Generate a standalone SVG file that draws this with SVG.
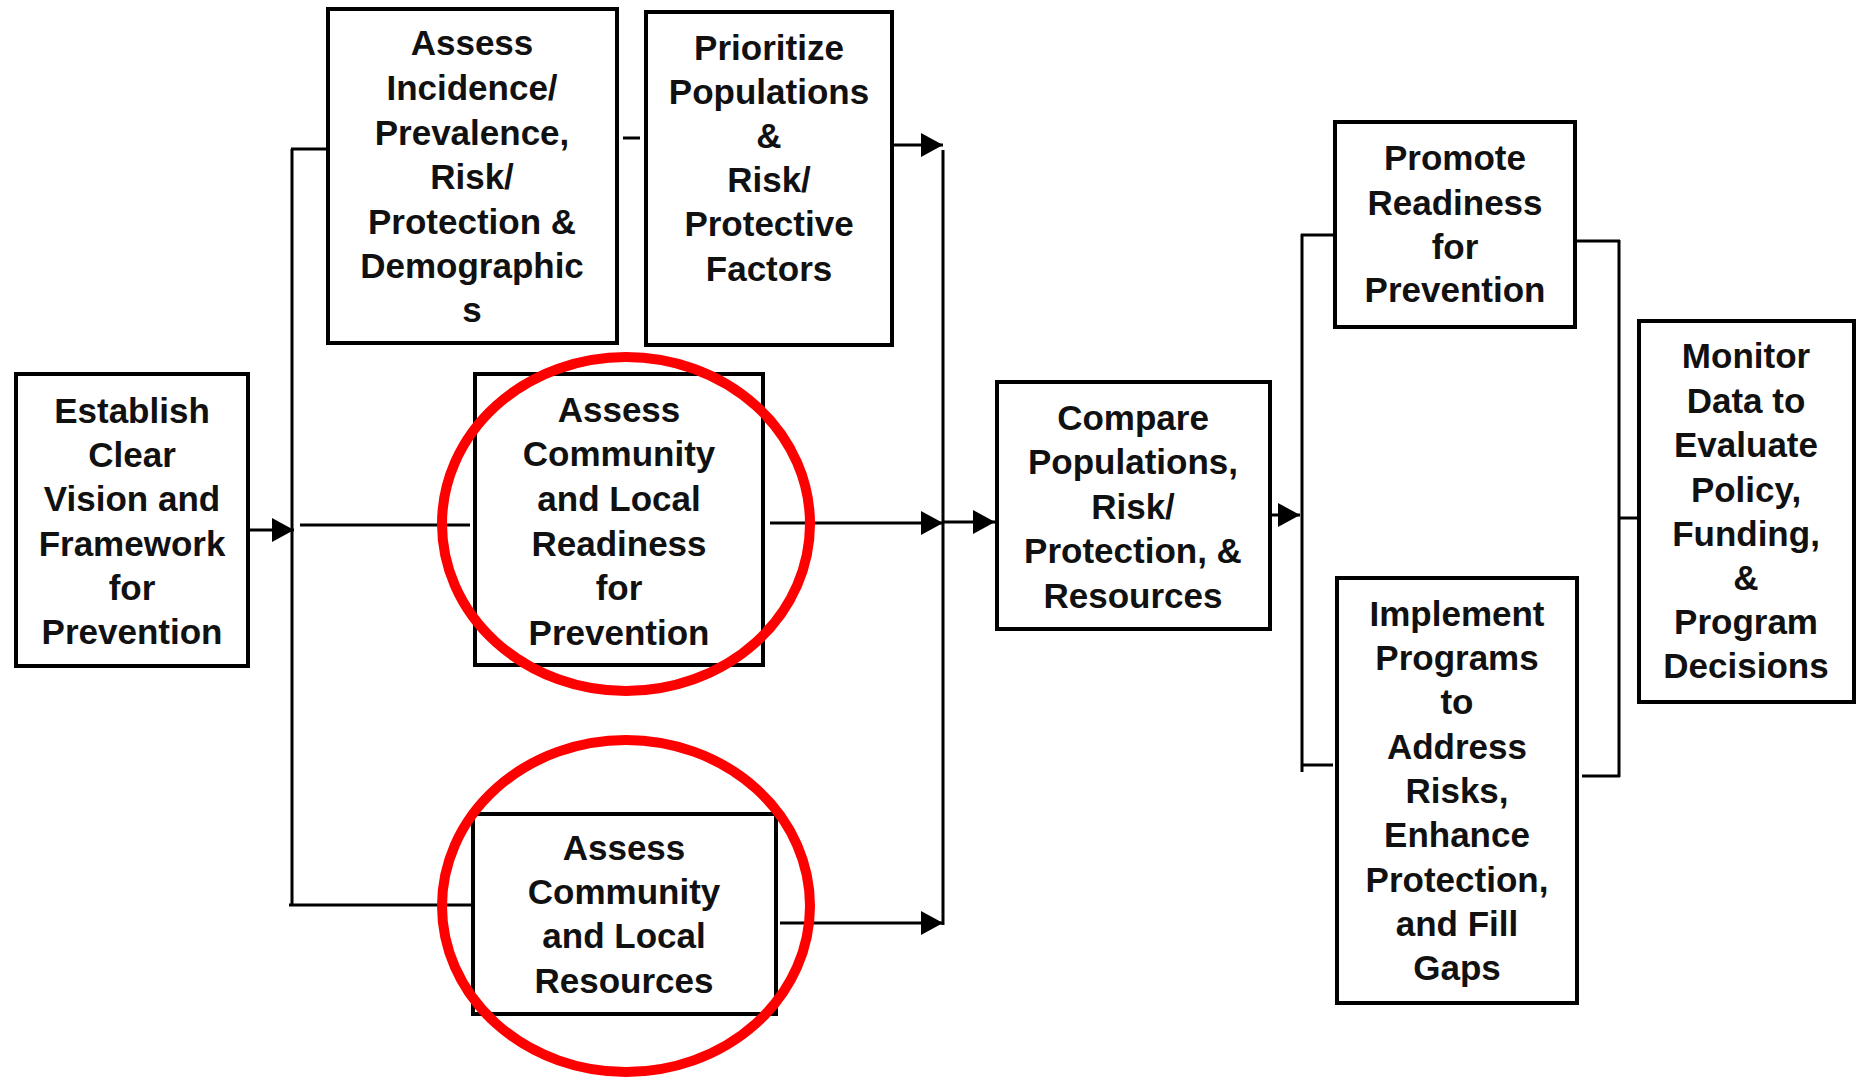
<svg xmlns="http://www.w3.org/2000/svg" width="1856" height="1080" viewBox="0 0 1856 1080">
<style>
.box{fill:#fff;stroke:#000;stroke-width:4}
.t{font-family:"Liberation Sans",Arial,sans-serif;font-weight:bold;font-size:35px;text-anchor:middle;fill:#111}
.c{fill:none;stroke:#000;stroke-width:3}
.ring{fill:none;stroke:#ff0000;stroke-width:10}
</style>
<defs>
<marker id="ah" markerUnits="userSpaceOnUse" markerWidth="24" markerHeight="26" refX="22" refY="12" orient="auto">
<path d="M0,0 L22,12 L0,24 Z" fill="#000"/>
</marker>
</defs>
<rect width="1856" height="1080" fill="#fff"/>

<g id="connectors">
<line class="c" x1="248" y1="530" x2="294" y2="530" marker-end="url(#ah)"/>
<line class="c" x1="292" y1="149" x2="292" y2="906"/>
<line class="c" x1="291" y1="149" x2="328" y2="149"/>
<line class="c" x1="300" y1="525" x2="470" y2="525"/>
<line class="c" x1="289" y1="905" x2="473" y2="905"/>
<line class="c" x1="623" y1="138" x2="640" y2="138"/>
<line class="c" x1="892" y1="145" x2="943" y2="145" marker-end="url(#ah)"/>
<line class="c" x1="770" y1="523" x2="943" y2="523" marker-end="url(#ah)"/>
<line class="c" x1="780" y1="923" x2="943" y2="923" marker-end="url(#ah)"/>
<line class="c" x1="943" y1="150" x2="943" y2="925"/>
<line class="c" x1="943" y1="522" x2="995" y2="522" marker-end="url(#ah)"/>
<line class="c" x1="1263" y1="515" x2="1300" y2="515" marker-end="url(#ah)"/>
<line class="c" x1="1302" y1="234" x2="1302" y2="772"/>
<line class="c" x1="1301" y1="235" x2="1333" y2="235"/>
<line class="c" x1="1301" y1="765" x2="1333" y2="765"/>
<line class="c" x1="1575" y1="241" x2="1620" y2="241"/>
<line class="c" x1="1619" y1="240" x2="1619" y2="777"/>
<line class="c" x1="1582" y1="776" x2="1620" y2="776"/>
<line class="c" x1="1619" y1="518" x2="1639" y2="518"/>
</g>

<g id="establish">
<rect class="box" x="16" y="374" width="232" height="292"/>
<text class="t" x="132" y="423">Establish</text>
<text class="t" x="132" y="467">Clear</text>
<text class="t" x="132" y="511">Vision and</text>
<text class="t" x="132" y="556">Framework</text>
<text class="t" x="132" y="600">for</text>
<text class="t" x="132" y="644">Prevention</text>
</g>

<g id="assess-incidence">
<rect class="box" x="328" y="9" width="289" height="334"/>
<text class="t" x="472" y="55">Assess</text>
<text class="t" x="472" y="100">Incidence/</text>
<text class="t" x="472" y="145">Prevalence,</text>
<text class="t" x="472" y="189">Risk/</text>
<text class="t" x="472" y="234">Protection &amp;</text>
<text class="t" x="472" y="278">Demographic</text>
<text class="t" x="472" y="322">s</text>
</g>

<g id="prioritize">
<rect class="box" x="646" y="12" width="246" height="333"/>
<text class="t" x="769" y="60">Prioritize</text>
<text class="t" x="769" y="104">Populations</text>
<text class="t" x="769" y="148">&amp;</text>
<text class="t" x="769" y="192">Risk/</text>
<text class="t" x="769" y="236">Protective</text>
<text class="t" x="769" y="281">Factors</text>
</g>

<g id="assess-readiness">
<rect class="box" x="475" y="374" width="288" height="291"/>
<text class="t" x="619" y="422">Assess</text>
<text class="t" x="619" y="466">Community</text>
<text class="t" x="619" y="511">and Local</text>
<text class="t" x="619" y="556">Readiness</text>
<text class="t" x="619" y="600">for</text>
<text class="t" x="619" y="645">Prevention</text>
</g>

<g id="assess-resources">
<rect class="box" x="473" y="814" width="303" height="200"/>
<text class="t" x="624" y="860">Assess</text>
<text class="t" x="624" y="904">Community</text>
<text class="t" x="624" y="948">and Local</text>
<text class="t" x="624" y="993">Resources</text>
</g>

<g id="compare">
<rect class="box" x="997" y="382" width="273" height="247"/>
<text class="t" x="1133" y="430">Compare</text>
<text class="t" x="1133" y="474">Populations,</text>
<text class="t" x="1133" y="519">Risk/</text>
<text class="t" x="1133" y="563">Protection, &amp;</text>
<text class="t" x="1133" y="608">Resources</text>
</g>

<g id="promote">
<rect class="box" x="1335" y="122" width="240" height="205"/>
<text class="t" x="1455" y="170">Promote</text>
<text class="t" x="1455" y="215">Readiness</text>
<text class="t" x="1455" y="259">for</text>
<text class="t" x="1455" y="302">Prevention</text>
</g>

<g id="implement">
<rect class="box" x="1337" y="578" width="240" height="425"/>
<text class="t" x="1457" y="626">Implement</text>
<text class="t" x="1457" y="670">Programs</text>
<text class="t" x="1457" y="714">to</text>
<text class="t" x="1457" y="759">Address</text>
<text class="t" x="1457" y="803">Risks,</text>
<text class="t" x="1457" y="847">Enhance</text>
<text class="t" x="1457" y="892">Protection,</text>
<text class="t" x="1457" y="936">and Fill</text>
<text class="t" x="1457" y="980">Gaps</text>
</g>

<g id="monitor">
<rect class="box" x="1639" y="321" width="215" height="381"/>
<text class="t" x="1746" y="368">Monitor</text>
<text class="t" x="1746" y="413">Data to</text>
<text class="t" x="1746" y="457">Evaluate</text>
<text class="t" x="1746" y="502">Policy,</text>
<text class="t" x="1746" y="546">Funding,</text>
<text class="t" x="1746" y="590">&amp;</text>
<text class="t" x="1746" y="634">Program</text>
<text class="t" x="1746" y="678">Decisions</text>
</g>

<g id="highlights">
<ellipse class="ring" cx="626" cy="524" rx="184" ry="167"/>
<ellipse class="ring" cx="626" cy="906" rx="184" ry="166"/>
</g>
</svg>
